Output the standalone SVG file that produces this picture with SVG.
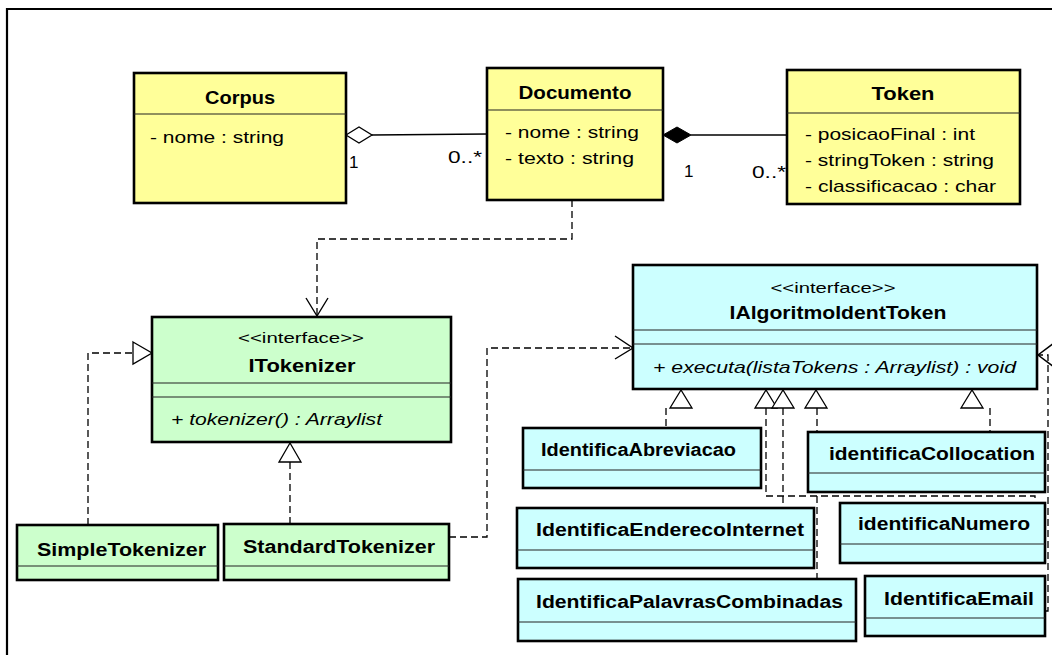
<svg xmlns="http://www.w3.org/2000/svg" width="1052" height="655" viewBox="0 0 1052 655">
  <style>
    .box { stroke: #000; stroke-width: 2.6; }
    .yellow { fill: #ffff99; }
    .green { fill: #ccffcc; }
    .cyan { fill: #ccffff; }
    .div { stroke: #222; stroke-width: 1.2; fill: none; }
    .name { font-family: "Liberation Sans", Arial, sans-serif; font-weight: bold; font-size: 18px; fill: #000; }
    .attr { font-family: "Liberation Sans", Arial, sans-serif; font-size: 17px; fill: #000; }
    .op { font-family: "Liberation Sans", Arial, sans-serif; font-style: italic; font-size: 17px; fill: #000; }
    .stereo { font-family: "Liberation Sans", Arial, sans-serif; font-size: 15.5px; fill: #000; }
    .mult { font-family: "Liberation Sans", Arial, sans-serif; font-size: 17px; fill: #000; }
    .solid { stroke: #000; stroke-width: 1.3; fill: none; }
    .dash { stroke: #000; stroke-width: 1.3; fill: none; stroke-dasharray: 7 4; }
    .open { stroke: #000; stroke-width: 1.4; fill: none; }
    .tri { stroke: #000; stroke-width: 1.3; fill: #fff; }
  </style>

  <rect x="0" y="0" width="1052" height="655" fill="#fff"/>
  <!-- diagram frame -->
  <path d="M7,655 V9 H1052" fill="none" stroke="#000" stroke-width="2.2"/>

  <!-- connectors -->
  <g id="connectors">
    <!-- Corpus <>- Documento (aggregation) -->
    <line class="solid" x1="372" y1="135" x2="487" y2="134"/>
    <polygon points="346,135 359,127 372,135 359,143" fill="#fff" stroke="#000" stroke-width="1.3"/>
    <text class="mult" x="349" y="168">1</text>
    <text class="mult" x="448" y="163" textLength="34" lengthAdjust="spacingAndGlyphs">0..*</text>

    <!-- Documento <#>- Token (composition) -->
    <line class="solid" x1="691" y1="135" x2="787" y2="135"/>
    <polygon points="663,135 677,127 691,135 677,143" fill="#000" stroke="#000" stroke-width="1"/>
    <text class="mult" x="684" y="177">1</text>
    <text class="mult" x="752" y="178" textLength="34" lengthAdjust="spacingAndGlyphs">0..*</text>

    <!-- Documento uses ITokenizer -->
    <path class="dash" d="M572,200 V239 H317 V315"/>
    <path class="open" d="M306,298 L317,316 L328,298"/>

    <!-- SimpleTokenizer realizes ITokenizer -->
    <path class="dash" d="M88,525 V353 H133"/>
    <polygon class="tri" points="133,342 152,353 133,364"/>

    <!-- StandardTokenizer realizes ITokenizer -->
    <path class="dash" d="M290,524 V462"/>
    <polygon class="tri" points="279,462 290,443 301,462"/>

    <!-- StandardTokenizer uses IAlgoritmoIdentToken -->
    <path class="dash" d="M449,537 H487 V348 H632"/>
    <path class="open" d="M615,336 L633,348 L615,359"/>

    <!-- implementations of IAlgoritmoIdentToken -->
    <path class="dash" d="M666,408 V429"/>
    <path class="dash" d="M766,408 V496 H1035 V503"/>
    <path class="dash" d="M783,408 V508"/>
    <path class="dash" d="M817,408 V580"/>
    <path class="dash" d="M990,408 V432"/>
    <path class="dash" d="M1045,611 H1048 V355 H1038"/>
    <path class="open" d="M1054,343 L1038,355 L1054,367"/>
    <polygon class="tri" points="670,408 681,390 692,408"/>
    <polygon class="tri" points="755,408 766,390 777,408"/>
    <polygon class="tri" points="772,408 783,390 794,408"/>
    <polygon class="tri" points="805,408 816,390 827,408"/>
    <polygon class="tri" points="961,408 972,390 983,408"/>
  </g>

  <!-- Corpus -->
  <g id="corpus">
    <rect class="box yellow" x="134" y="73" width="212" height="130"/>
    <line class="div" x1="134" y1="114" x2="346" y2="114"/>
    <text class="name" x="240" y="104" text-anchor="middle" textLength="70" lengthAdjust="spacingAndGlyphs">Corpus</text>
    <text class="attr" x="150" y="143" textLength="134" lengthAdjust="spacingAndGlyphs">- nome : string</text>
  </g>

  <!-- Documento -->
  <g id="documento">
    <rect class="box yellow" x="487" y="68" width="176" height="132"/>
    <line class="div" x1="487" y1="110" x2="663" y2="110"/>
    <text class="name" x="575" y="99" text-anchor="middle" textLength="113" lengthAdjust="spacingAndGlyphs">Documento</text>
    <text class="attr" x="505" y="138" textLength="134" lengthAdjust="spacingAndGlyphs">- nome : string</text>
    <text class="attr" x="505" y="164" textLength="129" lengthAdjust="spacingAndGlyphs">- texto : string</text>
  </g>

  <!-- Token -->
  <g id="token">
    <rect class="box yellow" x="787" y="70" width="233" height="134"/>
    <line class="div" x1="787" y1="113" x2="1020" y2="113"/>
    <text class="name" x="903" y="100" text-anchor="middle" textLength="63" lengthAdjust="spacingAndGlyphs">Token</text>
    <text class="attr" x="805" y="140" textLength="170" lengthAdjust="spacingAndGlyphs">- posicaoFinal : int</text>
    <text class="attr" x="805" y="166" textLength="189" lengthAdjust="spacingAndGlyphs">- stringToken : string</text>
    <text class="attr" x="805" y="192" textLength="191" lengthAdjust="spacingAndGlyphs">- classificacao : char</text>
  </g>

  <!-- ITokenizer -->
  <g id="itokenizer">
    <rect class="box green" x="152" y="317" width="299" height="125"/>
    <line class="div" x1="152" y1="383" x2="451" y2="383"/>
    <line class="div" x1="152" y1="397" x2="451" y2="397"/>
    <text class="stereo" x="301" y="343" text-anchor="middle" textLength="126" lengthAdjust="spacingAndGlyphs">&lt;&lt;interface&gt;&gt;</text>
    <text class="name" x="302" y="372" text-anchor="middle" textLength="107" lengthAdjust="spacingAndGlyphs">ITokenizer</text>
    <text class="op" x="171" y="425" textLength="211" lengthAdjust="spacingAndGlyphs">+ tokenizer() : Arraylist</text>
  </g>

  <!-- IAlgoritmoIdentToken -->
  <g id="ialgoritmoidenttoken">
    <rect class="box cyan" x="633" y="265" width="404" height="124"/>
    <line class="div" x1="633" y1="330" x2="1037" y2="330"/>
    <line class="div" x1="633" y1="344" x2="1037" y2="344"/>
    <text class="stereo" x="833" y="293" text-anchor="middle" textLength="125" lengthAdjust="spacingAndGlyphs">&lt;&lt;interface&gt;&gt;</text>
    <text class="name" x="838" y="319" text-anchor="middle" textLength="217" lengthAdjust="spacingAndGlyphs">IAlgoritmoIdentToken</text>
    <text class="op" x="653" y="373" textLength="363" lengthAdjust="spacingAndGlyphs">+ executa(listaTokens : Arraylist) : void</text>
  </g>

  <!-- SimpleTokenizer -->
  <g id="simpletokenizer">
    <rect class="box green" x="17" y="525" width="201" height="55"/>
    <line class="div" x1="17" y1="566" x2="218" y2="566"/>
    <text class="name" x="37" y="556" textLength="169" lengthAdjust="spacingAndGlyphs">SimpleTokenizer</text>
  </g>

  <!-- StandardTokenizer -->
  <g id="standardtokenizer">
    <rect class="box green" x="224" y="524" width="225" height="56"/>
    <line class="div" x1="224" y1="566" x2="449" y2="566"/>
    <text class="name" x="243" y="553" textLength="192" lengthAdjust="spacingAndGlyphs">StandardTokenizer</text>
  </g>

  <!-- IdentificaAbreviacao -->
  <g id="identificaabreviacao">
    <rect class="box cyan" x="523" y="428" width="238" height="60"/>
    <line class="div" x1="523" y1="470" x2="761" y2="470"/>
    <text class="name" x="541" y="456" textLength="195" lengthAdjust="spacingAndGlyphs">IdentificaAbreviacao</text>
  </g>

  <!-- identificaCollocation -->
  <g id="identificacollocation">
    <rect class="box cyan" x="808" y="432" width="237" height="60"/>
    <line class="div" x1="808" y1="473" x2="1045" y2="473"/>
    <text class="name" x="829" y="460" textLength="206" lengthAdjust="spacingAndGlyphs">identificaCollocation</text>
  </g>

  <!-- IdentificaEnderecoInternet -->
  <g id="identificaenderecointernet">
    <rect class="box cyan" x="517" y="508" width="297" height="60"/>
    <line class="div" x1="517" y1="550" x2="814" y2="550"/>
    <text class="name" x="536" y="536" textLength="268" lengthAdjust="spacingAndGlyphs">IdentificaEnderecoInternet</text>
  </g>

  <!-- identificaNumero -->
  <g id="identificanumero">
    <rect class="box cyan" x="840" y="503" width="205" height="60"/>
    <line class="div" x1="840" y1="544" x2="1045" y2="544"/>
    <text class="name" x="858" y="530" textLength="172" lengthAdjust="spacingAndGlyphs">identificaNumero</text>
  </g>

  <!-- IdentificaPalavrasCombinadas -->
  <g id="identificapalavrascombinadas">
    <rect class="box cyan" x="518" y="579" width="338" height="62"/>
    <line class="div" x1="518" y1="622" x2="856" y2="622"/>
    <text class="name" x="536" y="608" textLength="307" lengthAdjust="spacingAndGlyphs">IdentificaPalavrasCombinadas</text>
  </g>

  <!-- IdentificaEmail -->
  <g id="identificaemail">
    <rect class="box cyan" x="865" y="576" width="180" height="60"/>
    <line class="div" x1="865" y1="618" x2="1045" y2="618"/>
    <text class="name" x="884" y="605" textLength="150" lengthAdjust="spacingAndGlyphs">IdentificaEmail</text>
  </g>
</svg>
